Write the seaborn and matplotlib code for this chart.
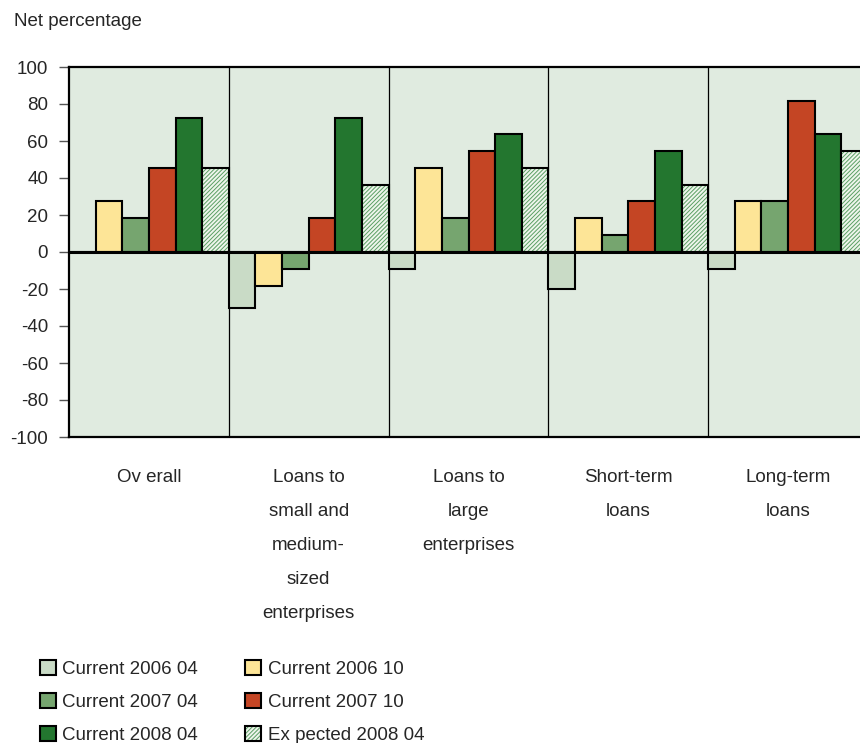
import matplotlib
matplotlib.use("Agg")
import matplotlib.pyplot as plt
from matplotlib.patches import Patch, Rectangle
import numpy as np
import pandas as pd
import seaborn as sns

categories = [
    "Ov erall",
    "Loans to\nsmall and\nmedium-\nsized\nenterprises",
    "Loans to\nlarge\nenterprises",
    "Short-term\nloans",
    "Long-term\nloans",
]
series = [
    "Current 2006 04",
    "Current 2006 10",
    "Current 2007 04",
    "Current 2007 10",
    "Current 2008 04",
    "Ex pected 2008 04",
]
current_2006_04 = [0.0, -30.0, -9.1, -20.0, -9.1]
current_2006_10 = [27.3, -18.2, 45.5, 18.2, 27.3]
current_2007_04 = [18.2, -9.1, 18.2, 9.1, 27.3]
current_2007_10 = [45.5, 18.2, 54.5, 27.3, 81.8]
current_2008_04 = [72.7, 72.7, 63.6, 54.5, 63.6]
expected_2008_04 = [45.5, 36.4, 45.5, 36.4, 54.5]
y_ticks = [100, 80, 60, 40, 20, 0, -20, -40, -60, -80, -100]

values = [current_2006_04, current_2006_10, current_2007_04,
          current_2007_10, current_2008_04, expected_2008_04]
df = pd.DataFrame(
    [(c, s, v) for s, vals in zip(series, values) for c, v in zip(categories, vals)],
    columns=["category", "series", "value"],
)

colors = ["#c9dbc6", "#fde597", "#76a56f", "#c44524", "#23762f", "#eef5ec"]
hatch_green = "#5a9f63"
bg = "#e0ebe0"

sns.set_theme(style="white")
plt.rcParams["font.family"] = ["Liberation Sans", "DejaVu Sans"]
plt.rcParams["font.size"] = 13.5
plt.rcParams["hatch.linewidth"] = 0.7

fig = plt.figure(figsize=(8.6, 7.43), dpi=100)
W, H = 860, 743
left, right, top, bottom = 69, 868, 67, 437
ax = fig.add_axes([left / W, 1 - bottom / H, (right - left) / W, (bottom - top) / H])
ax.set_facecolor(bg)

sns.barplot(
    data=df, x="category", y="value", hue="series",
    order=categories, hue_order=series, palette=colors, saturation=1,
    width=1.0, dodge=True, edgecolor="black", linewidth=1.5,
    ax=ax, legend=False, zorder=3,
)

# hatched bars for the expected series: green hatch, black outline on top
for bar in ax.containers[5]:
    bar.set_hatch("////////")
    bar.set_edgecolor(hatch_green)
    bar.set_linewidth(0)
    ax.add_patch(Rectangle((bar.get_x(), bar.get_y()), bar.get_width(), bar.get_height(),
                           fill=False, edgecolor="black", linewidth=1.5, zorder=4))

ax.set_xlim(-0.5, len(categories) - 0.5)
ax.set_ylim(-100, 100)
ax.set_yticks(y_ticks)
ax.set_yticklabels([str(t) for t in y_ticks])
ax.axhline(0, color="black", linewidth=2.2, zorder=5)
for i in range(len(categories) - 1):
    ax.axvline(i + 0.5, color="black", linewidth=0.9, zorder=2)

for side in ["left", "top", "bottom", "right"]:
    ax.spines[side].set_visible(True)
    ax.spines[side].set_color("black")
    ax.spines[side].set_linewidth(1.6)

ax.tick_params(axis="y", direction="out", length=7, width=1, color="#555555",
               pad=8, labelsize=13.5, left=True)
ax.tick_params(axis="x", length=0, pad=23, labelsize=13.5)
for lbl in ax.get_xticklabels():
    lbl.set_linespacing(2.3)
    lbl.set_verticalalignment("top")
ax.set_xlabel("")
ax.set_ylabel("")

fig.text(14 / W, 1 - 22 / H, "Net percentage", fontsize=13.5, va="center", ha="left")

# legend, filled column by column
handles = []
for s, c in zip(series, colors):
    if s.startswith("Ex"):
        handles.append((Patch(facecolor=c, edgecolor=hatch_green, hatch="////////", linewidth=0),
                        Patch(fill=False, edgecolor="black", linewidth=1.5)))
    else:
        handles.append(Patch(facecolor=c, edgecolor="black", linewidth=1.5))
order = [0, 2, 4, 1, 3, 5]
fig.legend(
    [handles[i] for i in order], [series[i] for i in order],
    ncol=2, loc="upper left", bbox_to_anchor=(40 / W, 1 - 660 / H),
    frameon=False, fontsize=13.5, handlelength=0.85, handleheight=0.85,
    handletextpad=0.35, labelspacing=0.8, columnspacing=2.5, borderpad=0,
    borderaxespad=0,
)

fig.savefig("out.png", dpi=100)
